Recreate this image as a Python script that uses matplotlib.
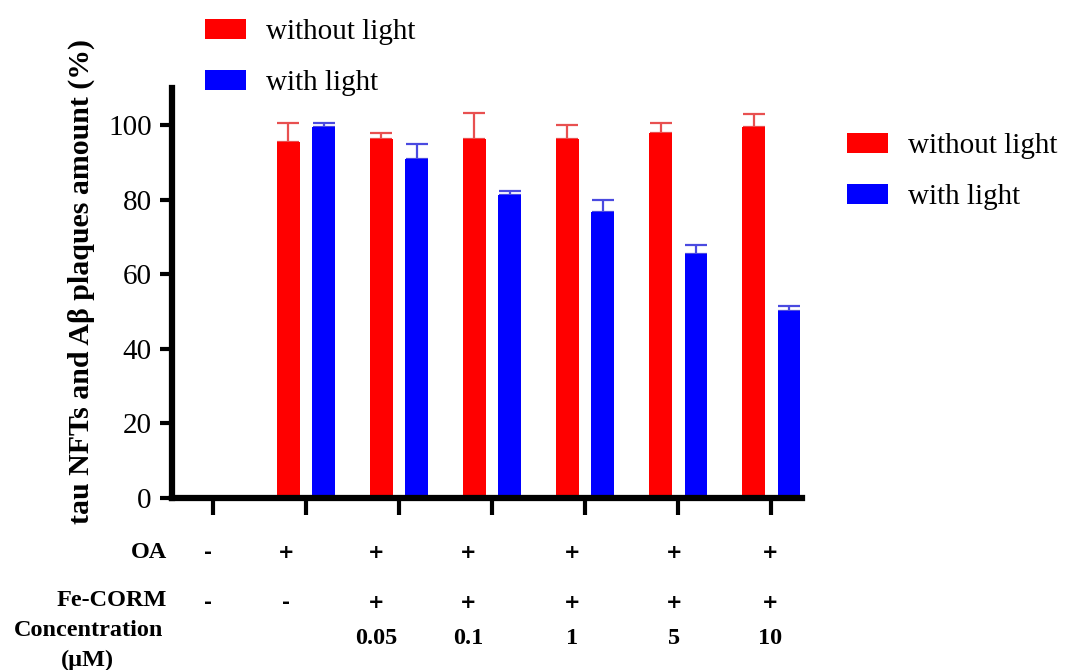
import numpy as np
import matplotlib
matplotlib.use("Agg")
import matplotlib.pyplot as plt

# ---- data ----
groups = ["ctrl", "OA", "0.05", "0.1", "1", "5", "10"]
without_light = [np.nan, 95.5, 96.4, 96.4, 96.2, 97.9, 99.5]
without_err = [np.nan, 5.0, 1.5, 6.8, 4.0, 2.7, 3.5]
with_light = [np.nan, 99.5, 91.0, 81.4, 76.8, 65.5, 50.3]
with_err = [np.nan, 1.0, 4.0, 1.0, 3.2, 2.3, 1.2]
oa_row = ["-", "+", "+", "+", "+", "+", "+"]
fecorm_row = ["-", "-", "+", "+", "+", "+", "+"]
conc_row = ["", "", "0.05", "0.1", "1", "5", "10"]
yticks = [0, 20, 40, 60, 80, 100]

W, H = 1070, 670
plt.rcParams['font.family'] = ['Liberation Serif', 'DejaVu Serif']
fig = plt.figure(figsize=(W / 100, H / 100), dpi=100)

def fx(px):
    return px / W

def fy(py):
    return 1 - py / H

ax = fig.add_axes([fx(172), fy(498), fx(802) - fx(172), fy(88) - fy(498)])

x = np.arange(len(groups))
off, bw = 0.19, 0.245
red, blue = "#ff0000", "#0000ff"
b1 = ax.bar(x - off, without_light, bw, color=red, label="without light", zorder=2)
b2 = ax.bar(x + off, with_light, bw, color=blue, label="with light", zorder=2)
z = np.zeros(len(groups))
ax.errorbar(x - off, without_light, yerr=[z, without_err], fmt='none',
            ecolor="#e85050", elinewidth=1.6, capsize=8, capthick=1.6, zorder=1)
ax.errorbar(x + off, with_light, yerr=[z, with_err], fmt='none',
            ecolor="#4a4ae0", elinewidth=1.6, capsize=8, capthick=1.6, zorder=1)

ax.set_xlim(-0.44, 6.33)
ax.set_ylim(0, 110)
ax.set_yticks(yticks)
ax.set_yticklabels([str(t) for t in yticks], fontsize=21)
ax.set_xticks(x)
ax.set_xticklabels([])
for s in ["top", "right"]:
    ax.spines[s].set_visible(False)
for s in ["left", "bottom"]:
    ax.spines[s].set_linewidth(4.5)
ax.tick_params(axis='y', length=8.5, width=3, pad=6)
ax.tick_params(axis='x', length=12, width=3)

fig.text(fx(81), fy(282), "tau NFTs and Aβ plaques amount (%)", fontsize=21.5,
         fontweight='bold', rotation=90, ha='center', va='center')

leg_kw = dict(frameon=False, fontsize=21, handlelength=1.4, handleheight=0.69,
              handletextpad=0.7, labelspacing=0.85, borderpad=0, borderaxespad=0)
leg1 = fig.legend(handles=[b1, b2], loc='upper left',
                  bbox_to_anchor=(fx(205), fy(19)), **leg_kw)
leg2 = fig.legend(handles=[b1, b2], loc='upper left',
                  bbox_to_anchor=(fx(847), fy(133)), **leg_kw)

# ---- condition table under the axis ----
cols = [208, 286, 376, 468, 572, 674, 770]
tfs = 17.5
sign_font = ['DejaVu Sans']
fig.text(fx(167), fy(553), "OA", fontsize=tfs, fontweight='bold', ha='right', va='center')
fig.text(fx(167), fy(601), "Fe-CORM", fontsize=tfs, fontweight='bold', ha='right', va='center')
fig.text(fx(163), fy(630), "Concentration", fontsize=tfs, fontweight='bold', ha='right', va='center')
fig.text(fx(87), fy(660), "(μM)", fontsize=tfs, fontweight='bold', ha='center', va='center')
for cx, a, f, c in zip(cols, oa_row, fecorm_row, conc_row):
    fig.text(fx(cx), fy(553), a, fontsize=14, fontweight='bold', family=sign_font,
             ha='center', va='center')
    fig.text(fx(cx), fy(602), f, fontsize=14, fontweight='bold', family=sign_font,
             ha='center', va='center')
    if c:
        fig.text(fx(cx), fy(638), c, fontsize=tfs, fontweight='bold', ha='center', va='center')

fig.savefig("out.png", dpi=100)
